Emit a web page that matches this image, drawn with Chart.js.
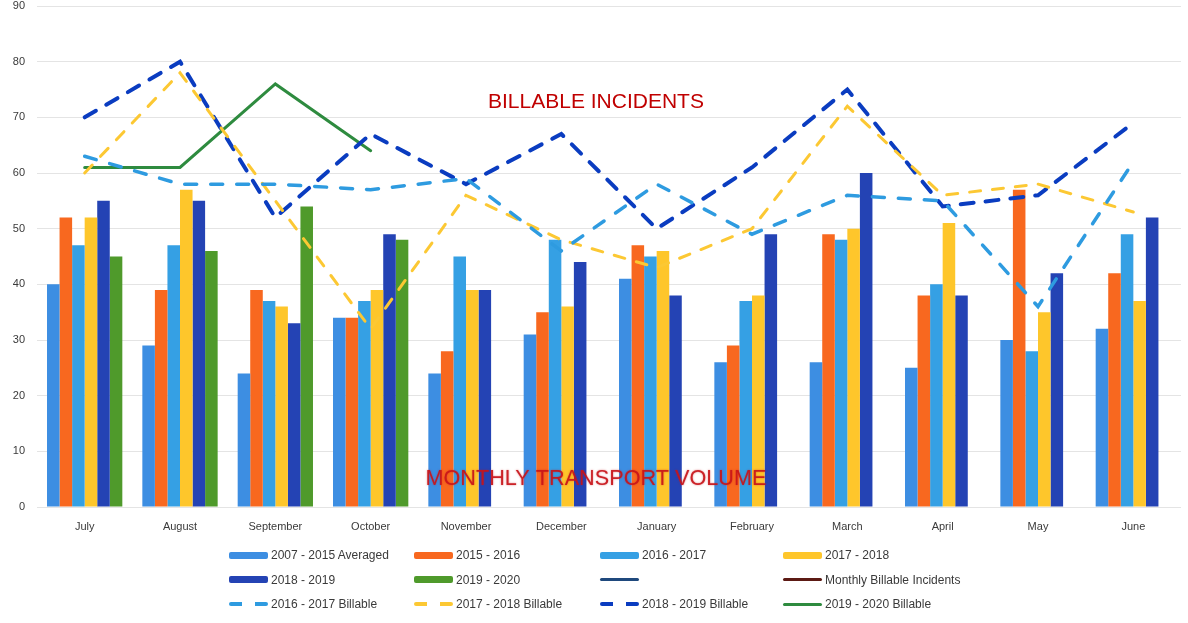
<!DOCTYPE html>
<html>
<head>
<meta charset="utf-8">
<script src="https://cdn.jsdelivr.net/npm/chart.js@4.4.1/dist/chart.umd.min.js"></script>
<style>
  body { margin: 0; background: #fff; }
  #wrap { position: relative; width: 1188px; height: 623px; }
  #legend {
    position: absolute; left: 229px; top: 543px;
    display: grid;
    grid-template-columns: 185px 186px 183px 210px;
    grid-auto-rows: 24.5px;
    font: 12px "Liberation Sans", Arial, sans-serif;
    color: #3a3a3a;
  }
  .item { display: flex; align-items: center; white-space: nowrap; }
  .sw { width: 39px; margin-right: 3px; flex: none; border-radius: 2px; }
</style>
</head>
<body>
<div id="wrap">
  <canvas id="chart"></canvas>
  <div id="legend"></div>
</div>
<script>
var months = ["July", "August", "September", "October", "November", "December",
  "January", "February", "March", "April", "May", "June"];

// monthly transport volume (bars)
var avg0715 = [40, 29, 24, 34, 24, 31, 41, 26, 26, 25, 30, 32];
var vol1516 = [52, 39, 39, 34, 28, 35, 47, 29, 49, 38, 57, 42];
var vol1617 = [47, 47, 37, 37, 45, 48, 45, 37, 48, 40, 28, 49];
var vol1718 = [52, 57, 36, 39, 39, 36, 46, 38, 50, 51, 35, 37];
var vol1819 = [55, 55, 33, 49, 39, 44, 38, 49, 60, 38, 42, 52];
var vol1920 = [45, 46, 54, 48, null, null, null, null, null, null, null, null];

// billable incidents (lines)
var bill1617 = [63, 58, 58, 57, 59, 46, 58, 49, 56, 55, 36, 62];
var bill1718 = [60, 78, 55, 32, 56, 48, 43, 50, 72, 56, 58, 53];
var bill1819 = [70, 80, 52, 67, 58, 67, 50, 61, 75, 54, 56, 69];
var bill1920 = [61, 61, 76, 64, null, null, null, null, null, null, null, null];
var emptySeries = [null, null, null, null, null, null, null, null, null, null, null, null];

var yTicks = [0, 10, 20, 30, 40, 50, 60, 70, 80, 90];

function bar(label, data, color) {
  return { type: "bar", label: label, data: data, backgroundColor: color, order: 2 };
}
function line(label, data, color, width, dash) {
  return {
    type: "line", label: label, data: data, borderColor: color, backgroundColor: color,
    borderWidth: width, borderDash: dash, borderCapStyle: "round", pointRadius: 0,
    tension: 0, spanGaps: false, order: 1
  };
}

var overlayText = {
  id: "overlayText",
  afterDatasetsDraw(chart) {
    var ctx = chart.ctx;
    var a = chart.chartArea;
    var y = chart.scales.y;
    var cx = a.left + (a.right - a.left) * 0.4886;
    ctx.save();
    ctx.textAlign = "center";
    ctx.textBaseline = "middle";
    ctx.fillStyle = "#c00000";
    ctx.font = "21px 'Liberation Sans', Arial, sans-serif";
    ctx.fillText("BILLABLE INCIDENTS", cx, y.getPixelForValue(72.7), 222);
    ctx.fillStyle = "rgba(200, 20, 25, 0.9)";
    ctx.shadowColor = "rgba(200, 20, 25, 0.6)";
    ctx.shadowBlur = 2;
    ctx.font = "22px 'Liberation Sans', Arial, sans-serif";
    ctx.fillText("MONTHLY TRANSPORT VOLUME", cx, y.getPixelForValue(5.0), 341);
    ctx.restore();
  }
};

var chart = new Chart(document.getElementById("chart"), {
  data: {
    labels: months,
    datasets: [
      bar("2007 - 2015 Averaged", avg0715, "#3d8ee2"),
      bar("2015 - 2016", vol1516, "#f8681f"),
      bar("2016 - 2017", vol1617, "#35a0e4"),
      bar("2017 - 2018", vol1718, "#fec62b"),
      bar("2018 - 2019", vol1819, "#2443b4"),
      bar("2019 - 2020", vol1920, "#4f9a2b"),
      line("", emptySeries, "#1f497d", 3, []),
      line("Monthly Billable Incidents", emptySeries, "#5c1a14", 3, []),
      line("2016 - 2017 Billable", bill1617, "#2e9be0", 3.5, [12, 14]),
      line("2017 - 2018 Billable", bill1718, "#fcc833", 3, [11, 12]),
      line("2018 - 2019 Billable", bill1819, "#0a3cc0", 4, [13, 12]),
      line("2019 - 2020 Billable", bill1920, "#2e8b3f", 3, [])
    ]
  },
  plugins: [overlayText],
  options: {
    responsive: true,
    maintainAspectRatio: false,
    animation: false,
    layout: { padding: { top: 0, right: 7, bottom: 83, left: 0 } },
    datasets: { bar: { categoryPercentage: 0.79, barPercentage: 1.0 } },
    plugins: { legend: { display: false }, tooltip: { enabled: false } },
    scales: {
      x: {
        grid: { display: false },
        border: { display: false },
        ticks: { color: "#3a3a3a", font: { family: "Liberation Sans", size: 11 }, padding: 5 },
        afterFit: function (s) { s.height = 33; }
      },
      y: {
        min: 0, max: 90,
        afterBuildTicks: function (s) { s.ticks = yTicks.map(function (v) { return { value: v }; }); },
        grid: { color: "#e4e4e4", drawTicks: false },
        border: { display: false },
        ticks: { color: "#3a3a3a", font: { family: "Liberation Sans", size: 11 }, padding: 12 },
        afterFit: function (s) { s.width = 37; s.paddingTop = 6; s.paddingBottom = 0; }
      }
    }
  }
});

// html legend laid out in four columns like the original
var legendBox = document.getElementById("legend");
chart.data.datasets.forEach(function (ds) {
  var item = document.createElement("div");
  item.className = "item";
  var sw = document.createElement("span");
  sw.className = "sw";
  if (ds.type === "bar") {
    sw.style.height = "7px";
    sw.style.background = ds.backgroundColor;
  } else if (ds.borderDash.length) {
    sw.style.height = "4px";
    sw.style.background = "repeating-linear-gradient(90deg, " + ds.borderColor + " 0 13px, transparent 13px 26px)";
  } else {
    sw.style.height = "3px";
    sw.style.background = ds.borderColor;
  }
  item.appendChild(sw);
  item.appendChild(document.createTextNode(ds.label));
  legendBox.appendChild(item);
});
</script>
</body>
</html>
